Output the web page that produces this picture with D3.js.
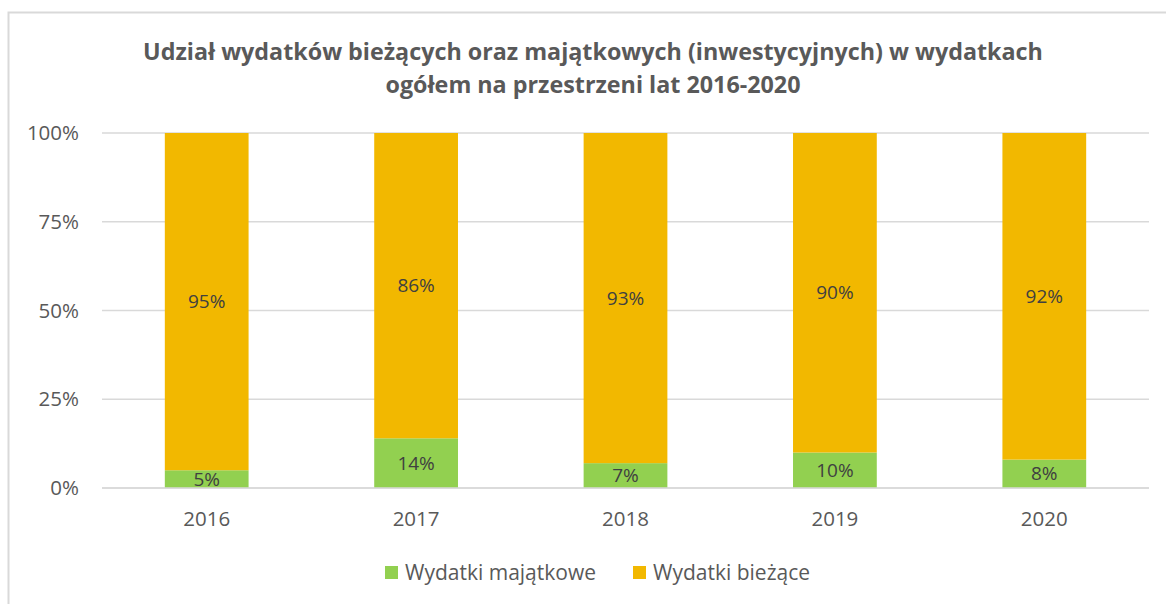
<!DOCTYPE html>
<html><head><meta charset="utf-8">
<script src="https://cdn.jsdelivr.net/npm/d3@7"></script>
<style>body{margin:0;background:#fff}svg{display:block}</style>
</head><body>
<svg id="c" width="1166" height="604"></svg>
<script>
const years = ["2016","2017","2018","2019","2020"];
const majatkowe = [5, 14, 7, 10, 8];
const biezace = [95, 86, 93, 90, 92];
const yTicks = [0, 25, 50, 75, 100];
const seriesNames = ["Wydatki majątkowe", "Wydatki bieżące"];
const colors = ["#92D050", "#F2B800"];
const titleLines = ["Udział wydatków bieżących oraz majątkowych (inwestycyjnych) w wydatkach", "ogółem na przestrzeni lat 2016-2020"];

const svg = d3.select("#c");
const font = "'Open Sans', 'Liberation Sans', sans-serif";
const txt = "#595959";

svg.append("rect").attr("x", 8.5).attr("y", 12.5).attr("width", 1170).attr("height", 620)
  .attr("fill", "#fff").attr("stroke", "#d9d9d9").attr("stroke-width", 2);

const m = {l: 102, r: 1149, t: 133, b: 488};
const x = d3.scaleBand().domain(years).range([m.l, m.r]).paddingInner(0.6).paddingOuter(0.3);
const y = d3.scaleLinear().domain([0, 100]).range([m.b, m.t]);

// gridlines
svg.append("g").selectAll("line").data(yTicks).join("line")
  .attr("x1", m.l).attr("x2", m.r).attr("y1", d => y(d)).attr("y2", d => y(d))
  .attr("stroke", "#d9d9d9").attr("stroke-width", 1.5);

// y labels
svg.append("g").selectAll("text").data(yTicks).join("text")
  .attr("x", 79).attr("y", d => y(d)).attr("dy", "0.35em").attr("text-anchor", "end")
  .attr("font-family", font).attr("font-size", 20.5).attr("fill", txt).text(d => d + "%");

const data = years.map((yr, i) => ({year: yr, majatkowe: majatkowe[i], biezace: biezace[i]}));
const stack = d3.stack().keys(["majatkowe", "biezace"])(data);

stack.forEach((s, si) => {
  const g = svg.append("g");
  g.selectAll("rect").data(s).join("rect")
    .attr("x", d => x(d.data.year)).attr("width", x.bandwidth())
    .attr("y", d => y(d[1])).attr("height", d => y(d[0]) - y(d[1]))
    .attr("fill", colors[si]);
  g.selectAll("text").data(s).join("text")
    .attr("x", d => x(d.data.year) + x.bandwidth() / 2)
    .attr("y", d => (y(d[0]) + y(d[1])) / 2).attr("dy", "0.35em")
    .attr("text-anchor", "middle").attr("font-family", font).attr("font-size", 19)
    .attr("fill", "#404040").text(d => (d[1] - d[0]) + "%");
});

// redraw baseline on top
svg.append("line").attr("x1", m.l).attr("x2", m.r).attr("y1", y(0)).attr("y2", y(0))
  .attr("stroke", "#d9d9d9").attr("stroke-width", 1.5);

// x labels
svg.append("g").selectAll("text").data(years).join("text")
  .attr("x", d => x(d) + x.bandwidth() / 2).attr("y", 519).attr("dy", "0.35em")
  .attr("text-anchor", "middle").attr("font-family", font).attr("font-size", 20.5)
  .attr("fill", txt).text(d => d);

// title
const t = svg.append("g").selectAll("text").data(titleLines).join("text")
  .attr("x", 593).attr("y", (d, i) => 60 + i * 33).attr("text-anchor", "middle")
  .attr("font-family", font).attr("font-weight", "bold").attr("font-size", 22)
  .attr("fill", txt).text(d => d);
const w0 = t.nodes()[0].getComputedTextLength();
t.attr("font-size", 22 * 900 / w0);

// legend
const leg = svg.append("g");
const legX = [385, 633];
seriesNames.forEach((n, i) => {
  leg.append("rect").attr("x", legX[i]).attr("y", 566).attr("width", 13).attr("height", 13).attr("fill", colors[i]);
  leg.append("text").attr("x", legX[i] + 20).attr("y", 573).attr("dy", "0.35em")
    .attr("font-family", font).attr("font-size", 21).attr("fill", txt).text(n);
});
</script>
</body></html>
